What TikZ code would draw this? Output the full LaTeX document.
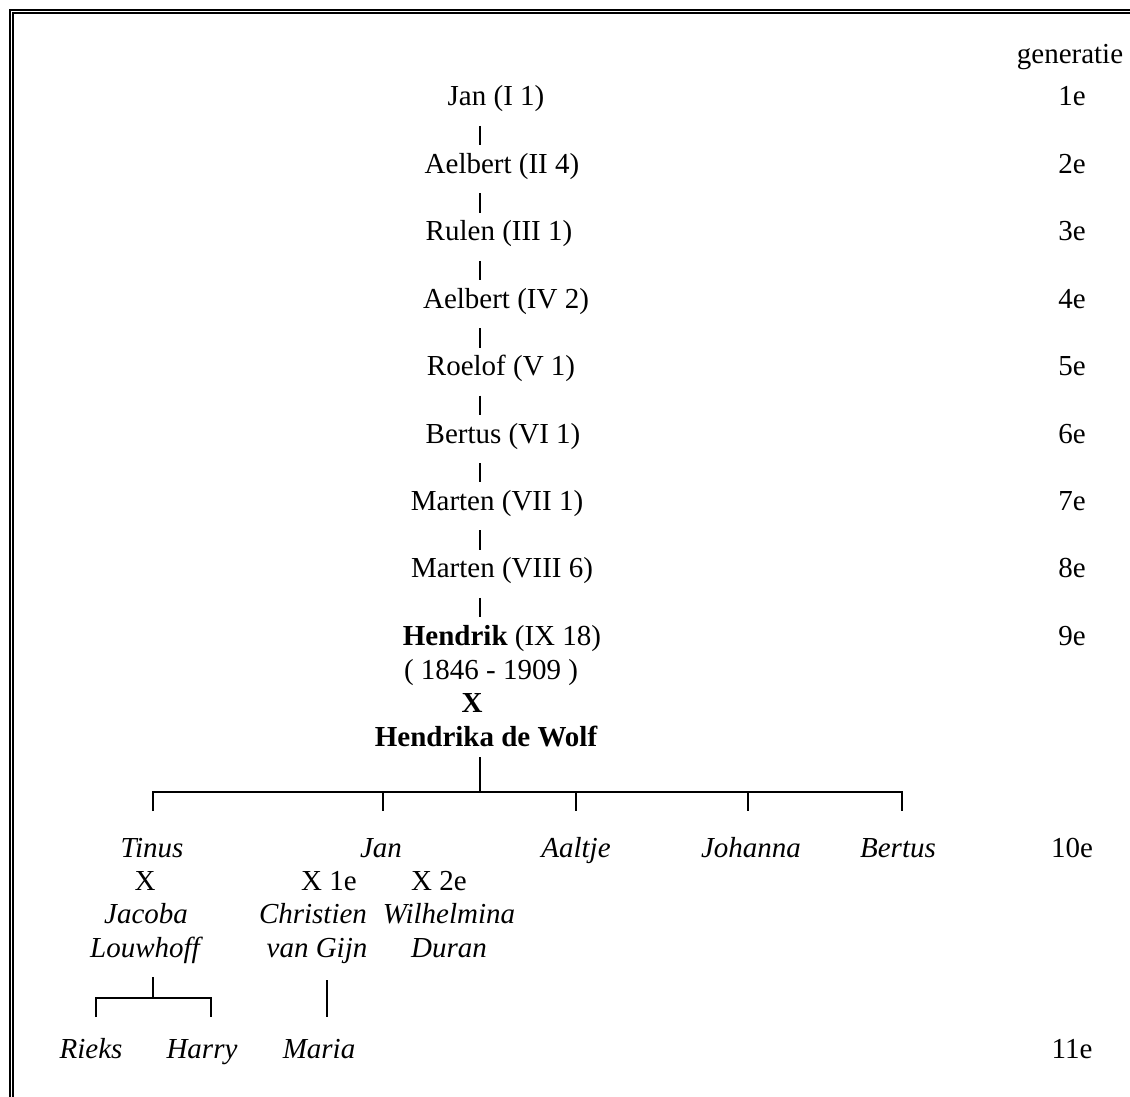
\documentclass[tikz,border=0pt]{standalone}
\usepackage{fontspec}
\setmainfont{Liberation Serif}
\usetikzlibrary{positioning, calc}
\tikzset{
person/.style={font=\fontsize{29}{33}\selectfont, inner sep=0pt, anchor=base},
kid/.style={person, font=\fontsize{29}{33}\selectfont\itshape},
line/.style={draw, line width=2.5pt},
frame/.style={draw, line width=1.2pt}
}
\begin{document}
\begin{tikzpicture}[x=1pt,y=1pt]
 \useasboundingbox (0,0) rectangle (1130,-1097);
 \draw[frame] (10,-1097) -- (10,-10) -- (1130,-10);
 \draw[frame] (13,-1097) -- (13,-13) -- (1130,-13);

 % line of descent, generations 1e to 9e
 \coordinate (spine) at (480,0);
 \node[person] (gen) at (1070,-64) {generatie};
 \foreach \t/\x [count=\k] in {Jan (I 1)/496, Aelbert (II 4)/502, Rulen (III 1)/499,
   Aelbert (IV 2)/506, Roelof (V 1)/501, Bertus (VI 1)/503, Marten (VII 1)/497,
   Marten (VIII 6)/502, \textbf{Hendrik} (IX 18)/502}
 {\node[person] (p\k) at (\x,{-106-(\k-1)*67.4}) {\t};
  \node[person] (g\k) at (1072,{-106-(\k-1)*67.4}) {\k e};}
 \foreach \k [evaluate=\k as \j using int(\k+1)] in {1,...,8}
 {\draw[line] ($(p\k.base -| spine)+(0,-20)$) -- ($(p\j.base -| spine)+(0,28)$);}
 \node[person] (yrs) at (491,-679) {( 1846 - 1909 )};
 \node[person,font=\fontsize{29}{33}\selectfont\bfseries] (mx) at (472,-712) {X};
 \node[person,font=\fontsize{29}{33}\selectfont\bfseries] (hw) at (486,-746) {Hendrika de Wolf};

 % children, 10e
 \coordinate (bar) at (480,-792);
 \node[kid] (c1) at (152,-857) {Tinus};
 \node[kid] (c2) at (381,-857) {Jan};
 \node[kid] (c3) at (576,-857) {Aaltje};
 \node[kid] (c4) at (751,-857) {Johanna};
 \node[kid] (c5) at (898,-857) {Bertus};
 \node[person] (g10) at (1072,-857) {10e};
 \draw[line] ($(hw.base -| spine)+(0,-11)$) -- (bar);
 \draw[line] ($(c1.base)+(1,46)$) -- ($(c1.base |- bar)+(1,0)$) -- ($(c5.base |- bar)+(4,0)$) -- ++(0,-19);
 \draw[line] ($(c2.base |- bar)+(2,0)$) -- ++(0,-19);
 \draw[line] (c3.base |- bar) -- ++(0,-19);
 \draw[line] ($(c4.base |- bar)+(-3,0)$) -- ++(0,-19);

 \node[person] (tx) at (145,-890) {X};
 \node[kid] (jb) at (146,-923) {Jacoba};
 \node[kid] (lw) at (145,-957) {Louwhoff};
 \node[person] (jx1) at (329,-890) {X 1e};
 \node[person] (jx2) at (439,-890) {X 2e};
 \node[kid] (cv) at (313,-923) {Christien};
 \node[kid] (vg) at (317,-957) {van Gijn};
 \node[kid] (wh) at (449,-923) {Wilhelmina};
 \node[kid] (du) at (449,-957) {Duran};

 % grandchildren, 11e
 \node[kid] (rk) at (91,-1058) {Rieks};
 \node[kid] (hy) at (202,-1058) {Harry};
 \node[kid] (ma) at (319,-1058) {Maria};
 \node[person] (g11) at (1072,-1058) {11e};
 \coordinate (tb) at (153,-998);
 \draw[line] ($(lw.base)+(8,-20)$) -- (tb);
 \draw[line] ($(rk.base)+(5,41)$) |- (tb) -| ($(hy.base)+(9,41)$);
 \draw[line] ($(vg.base)+(10,-23)$) -- ($(ma.base)+(8,41)$);
\end{tikzpicture}
\end{document}
